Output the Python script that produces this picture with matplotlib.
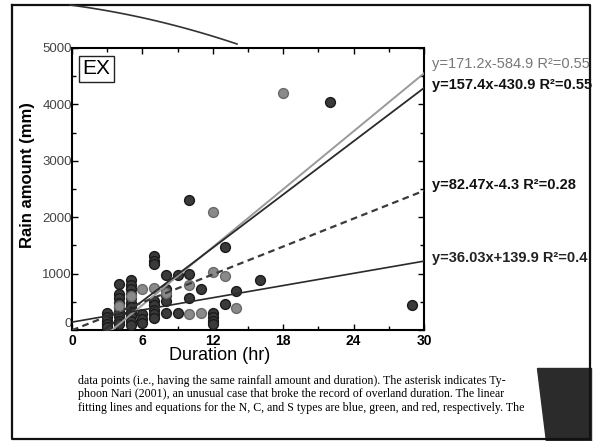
import numpy as np
import matplotlib
matplotlib.use("Agg")
import matplotlib.pyplot as plt
from matplotlib.patches import Polygon

plt.rcParams['font.family'] = ['Liberation Sans', 'DejaVu Sans']

# dark points (duration hr, rain mm)
dark_x = [3, 3, 3, 3, 3,
          4, 4, 4, 4, 4, 4, 4, 4, 4,
          5, 5, 5, 5, 5, 5, 5, 5, 5, 5, 5,
          6, 6, 6,
          7, 7, 7, 7, 7, 7, 7, 7,
          8, 8, 8, 8, 8,
          9, 9,
          10, 10, 10,
          11,
          12, 12, 12, 12,
          13, 13,
          14, 16, 22, 29]
dark_y = [300, 230, 160, 100, 50,
          820, 640, 560, 480, 400, 320, 240, 160, 100,
          890, 800, 720, 640, 560, 480, 400, 320, 240, 160, 80,
          280, 200, 120,
          1320, 1230, 1170, 520, 440, 360, 280, 210,
          980, 730, 620, 520, 300,
          980, 310,
          2310, 1000, 575,
          730,
          310, 230, 160, 100,
          1480, 460,
          690, 890, 4040, 445]

# gray points
gray_x = [4, 5, 6, 7, 8, 10, 10, 11, 12, 12, 13, 14, 18]
gray_y = [420, 600, 730, 750, 650, 800, 280, 300, 2100, 1020, 960, 390, 4200]

# fitted lines: slope, intercept, R2 label
fits = [(171.2, -584.9, "0.55"), (157.4, -430.9, "0.55"),
        (82.47, -4.3, "0.28"), (36.03, 139.9, "0.4")]

caption = ["data points (i.e., having the same rainfall amount and duration). The asterisk indicates Ty-",
           "phoon Nari (2001), an unusual case that broke the record of overland duration. The linear",
           "fitting lines and equations for the N, C, and S types are blue, green, and red, respectively. The"]

W, H = 595, 441
fig = plt.figure(figsize=(5.95, 4.41), dpi=100)


def fx(x):
    return x / W


def fy(y):
    return 1 - y / H


ax = fig.add_axes([fx(72), fy(330), fx(424) - fx(72), fy(48) - fy(330)])
ax.set_xlim(0, 30)
ax.set_ylim(0, 5000)

ax.scatter(dark_x, dark_y, s=50, c="#3a3a3a", edgecolors="#1a1a1a", linewidths=1.0, zorder=3)
ax.scatter(gray_x, gray_y, s=50, c="#8a8a8a", edgecolors="#6a6a6a", linewidths=1.0, zorder=3)

xs = np.array([0, 30])
styles = [dict(color="#9a9a9a", lw=1.4, ls="-"),
          dict(color="#2a2a2a", lw=1.3, ls="-"),
          dict(color="#3a3a3a", lw=1.6, ls=(0, (3, 2))),
          dict(color="#2a2a2a", lw=1.2, ls="-")]
for (m, b, r2), st in zip(fits, styles):
    ax.plot(xs, m * xs + b, zorder=4, **st)

ax.set_xticks([0, 6, 12, 18, 24, 30])
ax.set_xticks(np.arange(0, 31, 3), minor=True)
ax.set_yticks([0, 1000, 2000, 3000, 4000, 5000])
ax.set_yticks(np.arange(0, 5001, 500), minor=True)
ax.tick_params(which="both", direction="in", top=True, right=True, width=1.0)
ax.tick_params(which="major", length=4)
ax.tick_params(which="minor", length=3)
ax.tick_params(axis="x", labelsize=10, pad=3)
ax.tick_params(axis="y", labelsize=9.5, pad=0, labelcolor="#444444")
for lab in ax.get_xticklabels():
    lab.set_fontweight("bold")
ax.get_yticklabels()[0].set_verticalalignment("bottom")
for s in ax.spines.values():
    s.set_linewidth(1.5)

ax.set_xlabel("Duration (hr)", fontsize=13)
ax.xaxis.set_label_coords(0.42, -0.062)
ax.set_ylabel("Rain amount (mm)", fontsize=12, fontweight="bold")
ax.yaxis.set_label_coords(-0.105, 0.55)

ax.text(0.03, 0.96, "EX", transform=ax.transAxes, fontsize=15, va="top", ha="left",
        bbox=dict(boxstyle="square,pad=0.18", fc="white", ec="#222222", lw=1.0))

# equations on the right
eq_y = [64, 85, 185, 258]
eq_style = [dict(color="#777777", fontweight="normal"),
            dict(color="#111111", fontweight="bold"),
            dict(color="#111111", fontweight="bold"),
            dict(color="#222222", fontweight="bold")]
for (m, b, r2), yy, st in zip(fits, eq_y, eq_style):
    sign = "+" if b >= 0 else "-"
    txt = f"y={m:g}x{sign}{abs(b):g} R²={r2}"
    fig.text(fx(432), fy(yy), txt, fontsize=10.5, va="center", ha="left", **st)

# page frame and scan decorations
frame = plt.Line2D([fx(12), fx(12), fx(590), fx(590), fx(12)],
                   [fy(5), fy(439), fy(439), fy(5), fy(5)],
                   transform=fig.transFigure, color="#111111", lw=1.6)
fig.add_artist(frame)
t = np.linspace(0, 1, 30)
cx = 70 + 167 * t
cy = 5 + 22 * t + 17 * t ** 2
fig.add_artist(plt.Line2D(fx(cx), fy(cy), transform=fig.transFigure, color="#333333", lw=1.2))
fig.add_artist(Polygon([(fx(537), fy(368)), (fx(591), fy(368)), (fx(591), fy(441)), (fx(546), fy(441))],
                       closed=True, transform=fig.transFigure, fc="#2b2b2b", ec="#2b2b2b"))

for i, line in enumerate(caption):
    fig.text(fx(78), fy(381 + 13.5 * i), line, fontsize=8.6, family="Liberation Serif",
             color="#000000", va="center", ha="left")

fig.savefig("out.png", dpi=100)
